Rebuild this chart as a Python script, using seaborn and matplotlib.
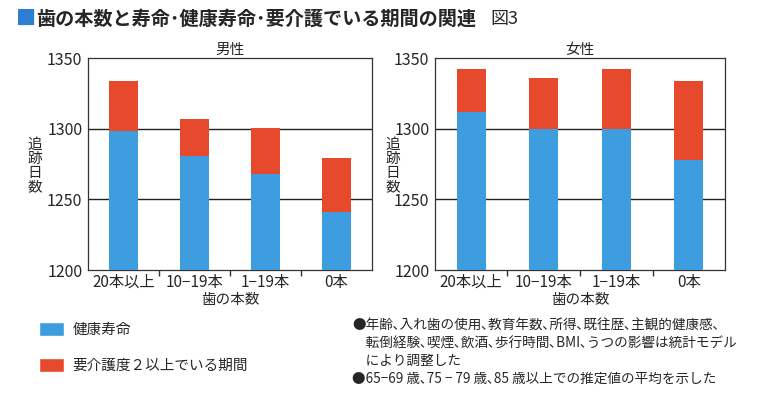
import numpy as np
import pandas as pd
import matplotlib
matplotlib.use("Agg")
import matplotlib.pyplot as plt
import seaborn as sns
from matplotlib.patches import Patch

sns.set_theme(style="white")
plt.rcParams["font.family"] = ["Noto Sans CJK JP", "DejaVu Sans"]

categorias = ["20本以上", "10−19本", "1−19本", "0本"]
saude_homem = [1298.5, 1281, 1268, 1241]
total_homem = [1334, 1307, 1300.5, 1279]
saude_mulher = [1312, 1300, 1300, 1278]
total_mulher = [1342, 1335.5, 1342, 1333.5]
rotulos_legenda = ["健康寿命", "要介護度２以上でいる期間"]
notas = [
    "●年齢､入れ歯の使用､教育年数､所得､既往歴､主観的健康感､",
    "　転倒経験､喫煙､飲酒､歩行時間､BMI､うつの影響は統計モデル",
    "　により調整した",
    "●65−69 歳､75 − 79 歳､85 歳以上での推定値の平均を示した",
]

azul = "#3d9ddf"
vermelho = "#e6492b"

fig = plt.figure(figsize=(7.6, 4.11), dpi=100)
ax1 = fig.add_axes([88 / 760, 1 - 270 / 411, 284 / 760, 212 / 411])
ax2 = fig.add_axes([435 / 760, 1 - 270 / 411, 290 / 760, 212 / 411])

for ax, saude, total, titulo in [
    (ax1, saude_homem, total_homem, "男性"),
    (ax2, saude_mulher, total_mulher, "女性"),
]:
    df = pd.DataFrame({"cat": categorias, "saude": saude, "total": total})
    sns.barplot(data=df, x="cat", y="total", color=vermelho, width=0.4,
                saturation=1, linewidth=0, ax=ax, zorder=2)
    sns.barplot(data=df, x="cat", y="saude", color=azul, width=0.4,
                saturation=1, linewidth=0, ax=ax, zorder=3)
    ax.set_ylim(1200, 1350)
    ax.set_yticks([1200, 1250, 1300, 1350])
    ax.set_xlim(-0.5, 3.5)
    for y in [1250, 1300]:
        ax.axhline(y, color="#222222", lw=1.0, zorder=1)
    for s in ax.spines.values():
        s.set_color("#333333")
        s.set_linewidth(0.9)
    ax.set_xticks([0.5, 1.5, 2.5], minor=True)
    ax.tick_params(axis="x", which="major", length=0, labelsize=11, pad=3)
    ax.tick_params(axis="x", which="minor", length=4, color="#333333",
                   direction="out", bottom=True)
    ax.tick_params(axis="y", length=0, labelsize=11.5, pad=4)
    ax.set_title(titulo, fontsize=10.5, pad=3)
    ax.set_xlabel("歯の本数", fontsize=10.5, labelpad=1)
    ax.set_ylabel("")

for xp in [35, 393]:
    fig.text(xp / 760, 1 - 166 / 411, "追\n跡\n日\n数", fontsize=10.5,
             ha="center", va="center", linespacing=1.0)

fig.text(16 / 760, 1 - 19 / 411, "■", color="#2a7fd4", fontsize=14.5,
         ha="left", va="center")
fig.text(36 / 760, 1 - 19 / 411, "歯の本数と寿命･健康寿命･要介護でいる期間の関連",
         fontsize=13.8, fontweight="bold", ha="left", va="center")
fig.text(490 / 760, 1 - 19 / 411, "図3", fontsize=13, ha="left", va="center")

alcas = [Patch(facecolor=azul), Patch(facecolor=vermelho)]
fig.legend(alcas, rotulos_legenda, loc="upper left",
           bbox_to_anchor=(26 / 760, 1 - 309 / 411), frameon=False,
           handlelength=1.7, handleheight=1.1, labelspacing=1.45,
           handletextpad=0.6, fontsize=10.5)

for i, linha in enumerate(notas):
    fig.text(352 / 760, 1 - (326 + i * 17.5) / 411, linha, fontsize=9.8,
             ha="left", va="center")

fig.savefig("out.png", dpi=100)
